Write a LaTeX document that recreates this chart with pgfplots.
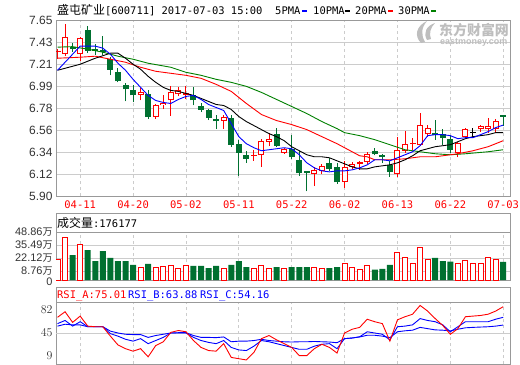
\documentclass[border=0pt]{standalone}
\usepackage{pgfplots}
\pgfplotsset{compat=1.18}
\usepackage{pgfplotstable}
\usepackage{fontspec}
\setmainfont{Liberation Sans}
\newfontfamily\cjk{Noto Sans CJK SC}
\newfontfamily\mono{DejaVu Sans Mono}
\definecolor{cred}{RGB}{255,0,0}
\definecolor{cgreen}{RGB}{0,112,48}
\definecolor{cma30}{RGB}{0,128,0}
\definecolor{cblue}{RGB}{0,0,255}
\definecolor{cframe}{RGB}{153,153,153}
\definecolor{cgrid}{RGB}{204,204,204}
\definecolor{ctxt}{RGB}{51,51,51}
\definecolor{cwm}{RGB}{190,190,190}

% i open close high low volume(10k); d: 1 up (red), -1 down (green), 0 doji (black); vd: volume bar colour
\pgfplotstableread{
i o c h l v d vd
0 7.33 7.34 7.36 7.26 21.1 1 1
1 7.31 7.48 7.61 7.29 43.5 1 1
2 7.38 7.36 7.42 7.33 25.4 -1 -1
3 7.31 7.47 7.48 7.24 36.6 1 1
4 7.55 7.34 7.59 7.32 30.5 -1 -1
5 7.365 7.345 7.41 7.30 19.3 -1 -1
6 7.35 7.33 7.49 7.30 29.5 -1 -1
7 7.26 7.155 7.28 7.10 22.4 -1 -1
8 7.13 7.04 7.17 7.03 19.3 -1 -1
9 7.00 6.96 7.02 6.84 19.3 -1 -1
10 6.955 6.90 7.00 6.83 15.3 -1 -1
11 6.905 6.93 6.97 6.85 12.9 1 1
12 6.915 6.685 6.95 6.665 16.3 -1 -1
13 6.69 6.80 6.81 6.67 12.9 1 1
14 6.80 6.825 6.90 6.77 13.9 1 1
15 6.85 6.93 6.99 6.70 14.9 1 1
16 6.91 6.955 6.98 6.89 11.9 1 1
17 6.905 6.925 6.99 6.86 14.9 1 1
18 6.90 6.85 6.98 6.80 14.3 -1 -1
19 6.795 6.76 6.82 6.735 14.3 -1 -1
20 6.756 6.675 6.77 6.655 12.2 -1 -1
21 6.666 6.643 6.705 6.565 14.3 -1 -1
22 6.645 6.682 6.708 6.565 11.9 1 1
23 6.672 6.41 6.71 6.39 15.3 -1 -1
24 6.42 6.33 6.46 6.10 19.3 -1 -1
25 6.305 6.27 6.345 6.23 13.2 -1 -1
26 6.30 6.31 6.36 6.25 11.9 1 1
27 6.31 6.45 6.47 6.19 14.3 1 1
28 6.44 6.462 6.53 6.395 11.9 1 1
29 6.516 6.395 6.58 6.385 13.2 -1 -1
30 6.33 6.365 6.38 6.32 11.2 1 1
31 6.372 6.283 6.505 6.263 13.2 -1 -1
32 6.255 6.126 6.35 6.10 13.2 -1 -1
33 6.145 6.13 6.15 5.945 13.2 -1 -1
34 6.122 6.163 6.185 5.998 13.2 1 1
35 6.15 6.198 6.22 6.115 12.2 1 1
36 6.225 6.165 6.28 6.15 12.2 -1 -1
37 6.186 6.035 6.23 6.02 13.2 -1 -1
38 6.04 6.19 6.247 5.983 17.3 1 1
39 6.188 6.222 6.24 6.168 13.2 1 1
40 6.214 6.234 6.25 6.16 10.2 1 1
41 6.238 6.322 6.34 6.218 14.3 1 1
42 6.345 6.313 6.377 6.303 10.5 -1 -1
43 6.312 6.283 6.318 6.226 11.2 -1 -1
44 6.213 6.138 6.249 6.09 15.3 -1 -1
45 6.115 6.362 6.487 6.085 27.5 1 1
46 6.352 6.414 6.543 6.33 22.4 1 1
47 6.415 6.425 6.48 6.362 17.3 1 1
48 6.41 6.605 6.726 6.40 32.6 1 1
49 6.512 6.572 6.603 6.49 20.4 1 1
50 6.53 6.505 6.66 6.46 22.4 -1 -1
51 6.518 6.476 6.563 6.41 19.3 -1 -1
52 6.464 6.358 6.504 6.33 18.7 -1 -1
53 6.328 6.425 6.44 6.283 17.3 1 1
54 6.487 6.566 6.578 6.48 20.0 1 1
55 6.535 6.535 6.58 6.49 16.3 0 1
56 6.562 6.593 6.61 6.535 17.3 1 1
57 6.562 6.598 6.675 6.527 22.4 1 1
58 6.57 6.646 6.667 6.527 20.4 1 1
59 6.703 6.688 6.703 6.60 18.5 -1 -1
}\ohlc

\pgfplotsset{
  panel/.style={scale only axis, width=454bp, xmin=-0.2, xmax=59.9,
    axis line style={draw=cframe, line width=1bp}, major tick length=0pt,
    xtick={3,10,17,24,31,38,45,52,59}, xmajorgrids,
    x grid style={draw=cgrid, dash pattern=on 3bp off 3bp, line width=0.8bp},
    y grid style={draw=cgrid, line width=0.8bp},
    yticklabel style={font=\fontsize{12}{12}\selectfont, text=ctxt}},
  ebar/.style n args={2}{draw=none, mark=none, forget plot,
    error bars/.cd, y dir=plus, y explicit, error mark=none,
    error bar style={draw=#1, line width=#2}},
}

\begin{document}
\begin{tikzpicture}
\path[use as bounding box] (0,0) rectangle (520bp,-365bp);

% ---------------- main price panel ----------------
\begin{axis}[panel, anchor=north west, at={(56bp,-20bp)}, height=176bp,
  ymin=5.90, ymax=7.65,
  ytick={5.90,6.11875,6.3375,6.55625,6.775,6.99375,7.2125,7.43125,7.65},
  yticklabels={5.90,6.12,6.34,6.56,6.78,6.99,7.21,7.43,7.65},
  ymajorgrids,
  xticklabels={04-11,04-20,05-02,05-11,05-22,06-02,06-13,06-22,07-03},
  xticklabel style={font=\mono\fontsize{10.5}{10.5}\selectfont, text=cred, anchor=north, inner sep=0pt, yshift=-5bp}]
% wicks (candles of another colour are moved off the axis, x = -100)
\addplot[ebar={cred}{1bp}] table[x expr={\thisrow{d}==1 ? \thisrow{i} : -100}, y=l, y error plus expr=\thisrow{h}-\thisrow{l}] {\ohlc};
\addplot[ebar={cgreen}{1bp}] table[x expr={\thisrow{d}==-1 ? \thisrow{i} : -100}, y=l, y error plus expr=\thisrow{h}-\thisrow{l}] {\ohlc};
\addplot[ebar={black}{1bp}] table[x expr={\thisrow{d}==0 ? \thisrow{i} : -100}, y=l, y error plus expr=\thisrow{h}-\thisrow{l}] {\ohlc};
% bodies
\addplot[ebar={cgreen}{6bp}] table[x expr={\thisrow{d}==-1 ? \thisrow{i} : -100}, y expr={min(\thisrow{o},\thisrow{c})}, y error plus expr={max(abs(\thisrow{c}-\thisrow{o}),0.01)}] {\ohlc};
\addplot[ebar={cred}{6bp}] table[x expr={\thisrow{d}==1 ? \thisrow{i} : -100}, y expr={min(\thisrow{o},\thisrow{c})}, y error plus expr={max(abs(\thisrow{c}-\thisrow{o}),0.01)}] {\ohlc};
\addplot[ebar={white}{4bp}] table[x expr={\thisrow{d}==1 ? \thisrow{i} : -100}, y expr={min(\thisrow{o},\thisrow{c})+0.01}, y error plus expr={max(abs(\thisrow{c}-\thisrow{o})-0.02,0)}] {\ohlc};
\addplot[ebar={black}{6bp}] table[x expr={\thisrow{d}==0 ? \thisrow{i} : -100}, y expr={\thisrow{o}-0.005}, y error plus expr={0.01}] {\ohlc};
% moving averages
\addplot[cma30, line width=0.9bp, mark=none] coordinates {(0,7.38)(2,7.385)(4,7.36)(6,7.33)(8,7.29)(10,7.26)(12,7.22)(15,7.18)(17,7.13)(19,7.10)(21,7.06)(23,7.03)(25,6.99)(27,6.93)(29,6.86)(31,6.79)(33,6.72)(35,6.64)(37,6.57)(38,6.53)(40,6.50)(42,6.46)(44,6.41)(46,6.36)(47,6.35)(50,6.32)(52,6.31)(54,6.32)(57,6.34)(59,6.36)};
\addplot[cred, line width=0.9bp, mark=none] coordinates {(0,7.27)(3,7.28)(5,7.29)(7,7.26)(9,7.23)(11,7.18)(13,7.14)(15,7.12)(17,7.10)(19,7.07)(21,7.01)(23,6.94)(25,6.82)(27,6.71)(29,6.65)(31,6.61)(33,6.56)(35,6.49)(37,6.42)(39,6.34)(40,6.30)(41,6.29)(42,6.26)(44,6.26)(46,6.27)(48,6.29)(50,6.29)(52,6.31)(53,6.32)(55,6.35)(57,6.39)(59,6.45)};
\addplot[black, line width=0.9bp, mark=none] coordinates {(0,7.15)(3,7.21)(5,7.27)(7,7.32)(8,7.32)(9,7.27)(10,7.21)(11,7.16)(12,7.09)(13,7.03)(14,6.98)(15,6.95)(16,6.94)(17,6.92)(18,6.90)(19,6.87)(20,6.84)(21,6.81)(22,6.80)(23,6.76)(24,6.69)(25,6.64)(26,6.60)(27,6.56)(28,6.52)(29,6.49)(30,6.45)(31,6.39)(32,6.35)(33,6.31)(34,6.29)(35,6.29)(36,6.28)(37,6.25)(38,6.22)(39,6.19)(40,6.17)(41,6.17)(42,6.19)(43,6.20)(44,6.21)(45,6.23)(46,6.26)(47,6.30)(48,6.35)(49,6.37)(50,6.39)(51,6.40)(52,6.41)(53,6.44)(54,6.47)(55,6.49)(56,6.50)(57,6.51)(58,6.53)(59,6.53)};
\addplot[cblue, line width=0.9bp, mark=none] coordinates {(0,7.15)(3,7.39)(5,7.39)(6,7.37)(7,7.31)(8,7.22)(9,7.15)(10,7.06)(11,6.98)(12,6.90)(13,6.85)(14,6.83)(15,6.82)(16,6.86)(17,6.89)(18,6.90)(19,6.86)(20,6.81)(21,6.78)(22,6.75)(23,6.62)(24,6.49)(25,6.42)(26,6.38)(27,6.35)(28,6.36)(29,6.37)(30,6.38)(31,6.37)(32,6.31)(33,6.23)(34,6.18)(35,6.15)(36,6.14)(37,6.15)(38,6.15)(39,6.16)(40,6.18)(41,6.21)(42,6.26)(43,6.26)(44,6.25)(45,6.28)(46,6.31)(47,6.34)(48,6.40)(49,6.50)(50,6.51)(51,6.51)(52,6.50)(53,6.47)(54,6.48)(55,6.48)(56,6.51)(57,6.54)(58,6.58)(59,6.605)};
\end{axis}

% ---------------- volume panel ----------------
\begin{axis}[panel, anchor=north west, at={(56bp,-232bp)}, height=48bp,
  ymin=0, ymax=48.86, ytick={0,8.76,22.12,35.49,48.86},
  yticklabel style={font=\fontsize{11}{11}\selectfont, text height=7bp, text depth=0bp, inner ysep=0pt},
  yticklabels={\raisebox{-1.5bp}{0},{\raisebox{0.5bp}{8.76{\cjk\fontsize{10}{10}\selectfont 万}}},{22.12{\cjk\fontsize{10}{10}\selectfont 万}},{35.49{\cjk\fontsize{10}{10}\selectfont 万}},{48.86{\cjk\fontsize{10}{10}\selectfont 万}}},
  ymajorgrids, xticklabels={}]
\addplot[ybar, bar width=6bp, bar shift=0pt, fill=cgreen, draw=none] table[x expr={\thisrow{vd}==-1 ? \thisrow{i} : -100}, y=v] {\ohlc};
\addplot[ybar, bar width=5bp, bar shift=0pt, fill=white, draw=cred, line width=1bp] table[x expr={\thisrow{vd}==1 ? \thisrow{i} : -100}, y=v] {\ohlc};
\end{axis}

% ---------------- RSI panel ----------------
\begin{axis}[panel, anchor=north west, at={(56bp,-302bp)}, height=62bp,
  ymin=-4.5, ymax=94.5, ytick={9,45,82}, xticklabels={},
  extra y ticks={45}, extra y tick labels={}, extra y tick style={grid=major}]
\addplot[cblue, line width=0.9bp, mark=none] coordinates {(0,56)(1,59)(2,58)(3,58)(4,55)(5,55)(6,55)(7,48)(8,45)(9,43)(10,42.5)(11,42.5)(12,38)(13,41)(14,43)(15,45)(16,45.5)(17,45.5)(18,41)(19,38)(20,38)(21,37.6)(22,38.7)(23,31)(24,32)(25,32)(26,33)(27,35)(28,33)(29,32)(30,31)(31,30.6)(32,31)(33,31)(34,31.5)(35,31)(36,30.6)(37,29.5)(38,36)(39,37)(40,38.7)(41,41.4)(42,41.4)(43,40)(44,37.6)(45,47)(46,48.5)(47,49.5)(48,54)(49,52)(50,50)(51,49.5)(52,48.4)(53,51)(54,53.3)(55,54)(56,54.5)(57,55)(58,56)(59,57.7)};
\addplot[cblue, line width=0.9bp, mark=none] coordinates {(0,60)(1,65)(2,56)(3,63)(4,55)(5,55)(6,55)(7,44)(8,40)(9,35)(10,32)(11,36)(12,28)(13,33)(14,38)(15,45)(16,45)(17,45)(18,38)(19,33)(20,30)(21,28)(22,33)(23,22)(24,18)(25,17)(26,24)(27,33)(28,31)(29,28)(30,25)(31,22)(32,19)(33,19)(34,24)(35,27)(36,28)(37,20)(38,36)(39,37)(40,39)(41,47)(42,45)(43,43)(44,34)(45,55)(46,56)(47,58)(48,68)(49,65)(50,63)(51,58)(52,47)(53,55)(54,63)(55,63)(56,63)(57,63)(58,67)(59,70)};
\addplot[cred, line width=0.9bp, mark=none] coordinates {(0,70)(1,79)(2,62)(3,72)(4,56)(5,55)(6,55)(7,40)(8,26)(9,20)(10,16)(11,20)(12,7)(13,25)(14,31)(15,46)(16,49)(17,47)(18,33)(19,22)(20,17)(21,16)(22,28)(23,6)(24,4)(25,2)(26,14)(27,36)(28,41)(29,34)(30,28)(31,22)(32,9)(33,9)(34,20)(35,27)(36,22)(37,13)(38,45)(39,51)(40,54)(41,67)(42,63)(43,60)(44,32)(45,66)(46,71)(47,75)(48,89)(49,80)(50,68)(51,57)(52,43)(53,52)(54,71)(55,72)(56,73)(57,75)(58,80)(59,87)};
\end{axis}

% header boxes
\draw[cframe, line width=1bp] (56bp,-213bp) rectangle (510bp,-232bp);
\draw[cframe, line width=1bp] (56bp,-287bp) rectangle (510bp,-302bp);

% title and legend
\node[anchor=base west, inner sep=0pt] at (57bp,-14.8bp) {\cjk\fontsize{12}{12}\selectfont 盛屯矿业\mono\fontsize{10.5}{10.5}\selectfont[600711] 2017-07-03 15:00};
\node[anchor=base west, inner sep=0pt] at (275bp,-14.3bp) {\mono\fontsize{10.5}{10.5}\selectfont 5PMA};
\node[anchor=base west, inner sep=0pt] at (313bp,-14.3bp) {\mono\fontsize{10.5}{10.5}\selectfont 10PMA};
\node[anchor=base west, inner sep=0pt] at (355bp,-14.3bp) {\mono\fontsize{10.5}{10.5}\selectfont 20PMA};
\node[anchor=base west, inner sep=0pt] at (398bp,-14.3bp) {\mono\fontsize{10.5}{10.5}\selectfont 30PMA};
\fill[cblue] (302bp,-9.5bp) rectangle (307bp,-12bp);
\fill[black] (345bp,-9.5bp) rectangle (350bp,-12bp);
\fill[cred] (388bp,-9.5bp) rectangle (393bp,-12bp);
\fill[cma30] (431bp,-9.5bp) rectangle (436bp,-12bp);

% watermark with a simple logo swoosh
\fill[cwm] (421bp,-43bp) .. controls (414bp,-36bp) and (416bp,-26bp) .. (427bp,-21bp)
  .. controls (421bp,-28bp) and (421bp,-35bp) .. (425bp,-42bp) -- cycle;
\fill[cwm] (427bp,-40bp) .. controls (423bp,-33bp) and (426bp,-26bp) .. (435bp,-23bp)
  .. controls (430bp,-28bp) and (429bp,-34bp) .. (431bp,-39bp) -- cycle;
\node[anchor=base west, inner sep=0pt, text=cwm] at (439bp,-35bp) {\cjk\bfseries\fontsize{14}{14}\selectfont 东方财富网};
\node[anchor=base west, inner sep=0pt, text=cwm] at (440bp,-44bp) {\bfseries\fontsize{9}{9}\selectfont eastmoney.com};

% panel headers
\node[anchor=base west, inner sep=0pt] at (57bp,-227bp) {\cjk\fontsize{12}{12}\selectfont 成交量\mono\fontsize{10.5}{10.5}\selectfont:176177};
\node[anchor=base west, inner sep=0pt, text=cred] at (57bp,-298bp) {\mono\fontsize{10.5}{10.5}\selectfont RSI\_A:75.01};
\node[anchor=base west, inner sep=0pt, text=cblue] at (128bp,-298bp) {\mono\fontsize{10.5}{10.5}\selectfont RSI\_B:63.88};
\node[anchor=base west, inner sep=0pt, text=cblue] at (200bp,-298bp) {\mono\fontsize{10.5}{10.5}\selectfont RSI\_C:54.16};
\end{tikzpicture}
\end{document}
